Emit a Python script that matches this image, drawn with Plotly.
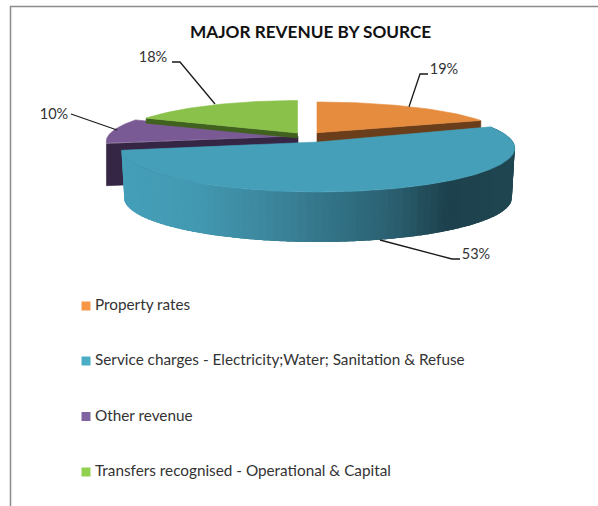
import math
import plotly.graph_objects as go

# ---- data ----
categories = ["Property rates",
              "Service charges - Electricity;Water; Sanitation & Refuse",
              "Other revenue",
              "Transfers recognised - Operational & Capital"]
values = [19, 53, 10, 18]
labels = ["19%", "53%", "10%", "18%"]
title_text = "MAJOR REVENUE BY SOURCE"

# ---- styles ----
top_colors = ["#E58C3E", "#459FB9", "#7A5A95", "#8AC14B"]
wall_colors = ["#6B3E1B", "#459FB9", "#352645", "#41611F"]
legend_colors = ["#F79646", "#4BACC6", "#8064A2", "#92D050"]
text_color = "#333333"
FONT = "Lato"
W, H = 598, 506
K = 0.136  # perspective strength of the tilted pie

# apex x, apex y, horizontal scale, vertical scale, wall depth, per slice
geom = [
    dict(ax=317, ay=132.7, rx=185, ry=34.9, d=42),
    dict(ax=318, ay=142.0, rx=195, ry=43.2, d=50),
    dict(ax=298, ay=136.0, rx=190, ry=40.0, d=42),
    dict(ax=297.5, ay=133.0, rx=177, ry=36.9, d=5),
]
label_pos = [(444, 70.5), (476, 255), (54, 115), (153, 58)]
leaders = [
    [(409, 106.7), (420, 74), (428, 74)],
    [(380, 240), (452, 259), (460, 259)],
    [(117, 130), (78, 116), (71, 114)],
    [(215, 104), (180, 62), (172, 62)],
]
legend_y = [306, 361, 416.5, 472]
legend_text_y = [306.5, 361.5, 417, 472.5]


def project(g, deg, drop=0.0, shrink=1.0):
    t = math.radians(deg)
    u, v = math.sin(t), math.cos(t)
    w = 1 + K * v
    return (g["ax"] + shrink * g["rx"] * u / w, g["ay"] + drop - g["ry"] * v / w)


def arc(g, a0, a1, drop=0.0, shrink=1.0):
    n = max(2, int(abs(a1 - a0)))
    return [project(g, a0 + (a1 - a0) * i / n, drop, shrink) for i in range(n + 1)]


def poly(fig, pts, color, line=0.6):
    xs = [p[0] for p in pts] + [pts[0][0]]
    ys = [p[1] for p in pts] + [pts[0][1]]
    fig.add_trace(go.Scatter(x=xs, y=ys, mode="lines", fill="toself", fillcolor=color,
                             line=dict(color=color, width=line), hoverinfo="skip",
                             showlegend=False))


def side_color(x):
    stops = [(120, (69, 159, 185)), (200, (66, 152, 177)), (270, (60, 135, 157)),
             (340, (50, 114, 134)), (400, (42, 94, 110)), (450, (29, 65, 77)), (515, (31, 70, 81))]
    for (x0, c0), (x1, c1) in zip(stops, stops[1:]):
        if x <= x1:
            f = max(0.0, (x - x0) / (x1 - x0))
            c = [round(a + (b - a) * f) for a, b in zip(c0, c1)]
            return "rgb(%d,%d,%d)" % tuple(c)
    return "rgb(31,70,81)"


# angles come from the values, clockwise from twelve o'clock
total = sum(values)
angles = []
acc = 0.0
for v in values:
    angles.append((acc, acc + v / total * 360))
    acc += v / total * 360

fig = go.Figure()


def radial_wall(i, deg):
    g = geom[i]
    a = (g["ax"], g["ay"])
    p = project(g, deg)
    poly(fig, [a, p, (p[0], p[1] + g["d"]), (a[0], a[1] + g["d"])], wall_colors[i])


def top(i):
    g = geom[i]
    a0, a1 = angles[i]
    poly(fig, [(g["ax"], g["ay"])] + arc(g, a0, a1), top_colors[i])


# back slices first, then the large front slice over them
radial_wall(2, angles[2][0])
top(2)
radial_wall(3, angles[3][0])
top(3)
radial_wall(0, angles[0][1])
top(0)

# side wall of the front slice: overlapping strips, painted right to left
g = geom[1]
a0, a1 = angles[1]
shrink = 0.985
steps = 90
for i in range(steps):
    s0 = a0 + (a1 - a0) * i / steps
    s1 = min(a0 + (a1 - a0) * (i + 2.5) / steps, a1)
    p0, p1 = project(g, s0), project(g, s1)
    q0, q1 = project(g, s0, g["d"], shrink), project(g, s1, g["d"], shrink)
    poly(fig, [p0, p1, q1, q0], side_color(p0[0]), 0)
top(1)

# leader lines
for pts in leaders:
    fig.add_trace(go.Scatter(x=[p[0] for p in pts], y=[p[1] for p in pts], mode="lines",
                             line=dict(color="#1a1a1a", width=1.3), hoverinfo="skip",
                             showlegend=False))

# percentage labels
fig.add_trace(go.Scatter(x=[p[0] for p in label_pos], y=[p[1] for p in label_pos], mode="text",
                         text=labels, textposition="middle center",
                         textfont=dict(family=FONT, size=14.5, color=text_color),
                         hoverinfo="skip", showlegend=False))

# legend
fig.add_trace(go.Scatter(x=[86] * len(categories), y=legend_y, mode="markers",
                         marker=dict(symbol="square", size=9, color=legend_colors),
                         hoverinfo="skip", showlegend=False))
fig.add_trace(go.Scatter(x=[95] * len(categories), y=legend_text_y, mode="text",
                         text=categories, textposition="middle right",
                         textfont=dict(family=FONT, size=15.3, color=text_color),
                         hoverinfo="skip", showlegend=False))

fig.update_layout(
    width=W, height=H, autosize=False, margin=dict(l=0, r=0, t=0, b=0),
    paper_bgcolor="white", plot_bgcolor="white", showlegend=False,
    xaxis=dict(range=[0, W], visible=False, fixedrange=True),
    yaxis=dict(range=[H, 0], visible=False, fixedrange=True),
    annotations=[dict(x=310.5, y=31, xref="x", yref="y", text="<b>%s</b>" % title_text,
                      showarrow=False, font=dict(family=FONT, size=17.2, color="#111111"))],
    shapes=[
        dict(type="line", xref="x", yref="y", x0=10.5, x1=10.5, y0=6, y1=H,
             line=dict(color="#8c8c8c", width=1.5)),
        dict(type="line", xref="x", yref="y", x0=10, x1=W, y0=6.5, y1=6.5,
             line=dict(color="#8c8c8c", width=1.5)),
    ],
)
fig.write_html("out.html", config={"displayModeBar": False},
               post_script="document.body.style.margin='0';"
                           "document.documentElement.style.overflow='hidden';")
